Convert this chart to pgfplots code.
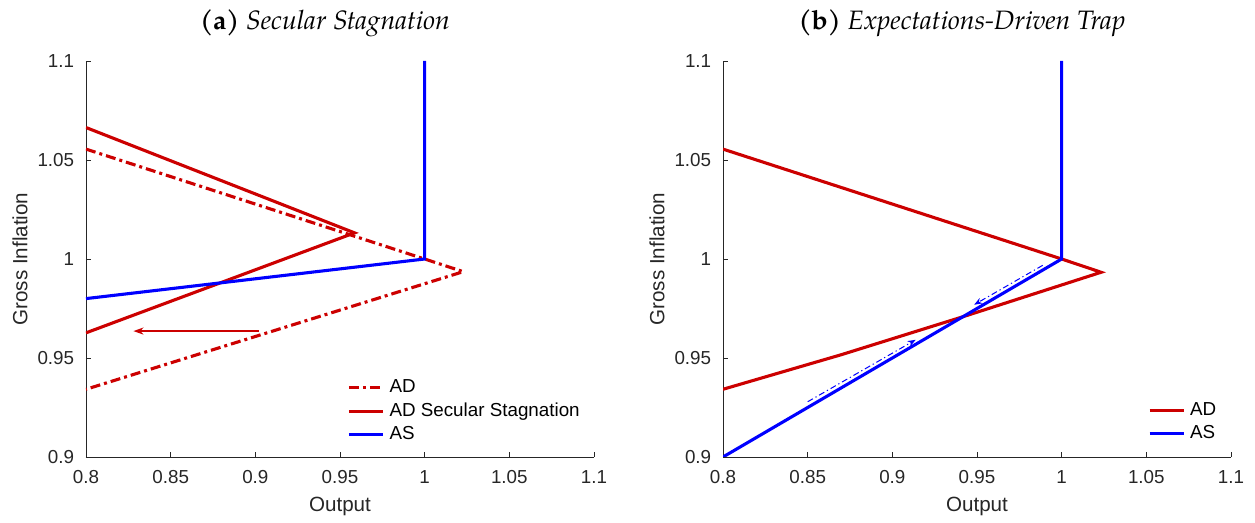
\documentclass[border=0pt]{standalone}
\usepackage{fontspec}
\setmainfont{Liberation Sans}
\newfontfamily\titlefont{TeX Gyre Pagella}
\usepackage{pgfplots}
\pgfplotsset{compat=1.18}
\usetikzlibrary{arrows.meta}
\definecolor{adred}{rgb}{0.8,0,0}
\definecolor{axgray}{rgb}{0.15,0.15,0.15}

\pgfplotsset{
  panel/.style={
    scale only axis, width=254pt, height=198pt,
    xmin=0.8, xmax=1.1, ymin=0.9, ymax=1.1,
    xtick={0.8,0.85,0.9,0.95,1,1.05,1.1},
    xticklabels={0.8,0.85,0.9,0.95,1,1.05,1.1},
    ytick={0.9,0.95,1,1.05,1.1},
    yticklabels={0.9,0.95,1,1.05,1.1},
    axis lines=left,
    axis line style={-, draw=axgray, line width=0.45pt},
    tick align=inside, major tick length=2.5pt,
    tick style={draw=axgray, line width=0.45pt},
    tick label style={font=\fontsize{9.4}{11}\selectfont, text=axgray},
    /pgf/number format/assume math mode=true,
    xticklabel style={yshift=-3.4pt},
    yticklabel style={xshift=-2.4pt},
    every axis x label/.style={at={(axis description cs:0.5,0)}, anchor=center, yshift=-24.5pt,
      font=\fontsize{10.3}{12}\selectfont, text=axgray},
    every axis y label/.style={at={(axis description cs:0,0.5)}, xshift=-33pt, rotate=90, anchor=center,
      font=\fontsize{10.3}{12}\selectfont, text=axgray},
    xlabel={Output}, ylabel={Gross Inflation},
    legend style={draw=none, fill=none, font=\fontsize{9.4}{11}\selectfont,
      nodes={inner sep=0pt, text height=7pt, text depth=2pt},
      row sep=2.75pt, column sep=2.5pt},
    legend cell align=left,
    legend image code/.code={\draw[#1] (0pt,0pt) -- (17pt,0pt);},
  }
}

\begin{document}
\begin{tikzpicture}
\useasboundingbox (0,0) rectangle (627.5pt,-261.5pt);

\node[anchor=base, font=\titlefont\fontsize{13.3}{15}\selectfont] at (162.5pt,-15pt)
  {\textbf{(a)} \textit{Secular Stagnation}};
\node[anchor=base, font=\titlefont\fontsize{13.3}{15}\selectfont] at (481pt,-15pt)
  {\textbf{(b)} \textit{Expectations-Driven Trap}};

% (a) secular stagnation
\begin{axis}[panel, at={(43pt,-228.5pt)}, anchor=south west,
  legend style={at={(axis description cs:0.502,0.209)}, anchor=north west}]
\addplot[adred, line width=1.55pt, dash pattern=on 5pt off 2pt on 1.5pt off 2pt]
  coordinates {(0.8,1.0555) (1,1) (1.0228,0.9936) (0.8,0.9342)};
\addplot[adred, line width=1.55pt]
  coordinates {(0.8,1.0664) (0.9586,1.0132) (0.8,0.9627)};
\addplot[blue, line width=1.55pt]
  coordinates {(0.8,0.98) (1,1) (1,1.1)};
\addplot[adred, line width=0.75pt, -{Stealth[length=5pt,width=3.5pt,inset=1.5pt]}, forget plot]
  coordinates {(0.9022,0.9636) (0.828,0.9636)};
\legend{AD, AD Secular Stagnation, AS}
\end{axis}

% (b) expectations-driven trap
\begin{axis}[panel, at={(361.5pt,-228.5pt)}, anchor=south west,
  legend style={at={(axis description cs:0.824,0.152)}, anchor=north west}]
\addplot[adred, line width=1.55pt]
  coordinates {(0.8,1.0555) (1,1) (1.0233,0.9933) (0.9434,0.9713)
               (0.87,0.9517) (0.8,0.9342)};
\addplot[blue, line width=1.55pt]
  coordinates {(0.8,0.9) (1,1) (1,1.1)};
\addplot[blue, line width=0.5pt, dash pattern=on 3pt off 1.5pt on 0.6pt off 1.5pt,
  -{Stealth[length=4pt,width=3pt,inset=1.2pt]}, forget plot]
  coordinates {(0.9888,0.9968) (0.9483,0.9769)};
\addplot[blue, line width=0.5pt, dash pattern=on 3pt off 1.5pt on 0.6pt off 1.5pt,
  -{Stealth[length=4pt,width=3pt,inset=1.2pt]}, forget plot]
  coordinates {(0.85,0.9279) (0.9138,0.9592)};
\legend{AD, AS}
\end{axis}
\end{tikzpicture}
\end{document}
